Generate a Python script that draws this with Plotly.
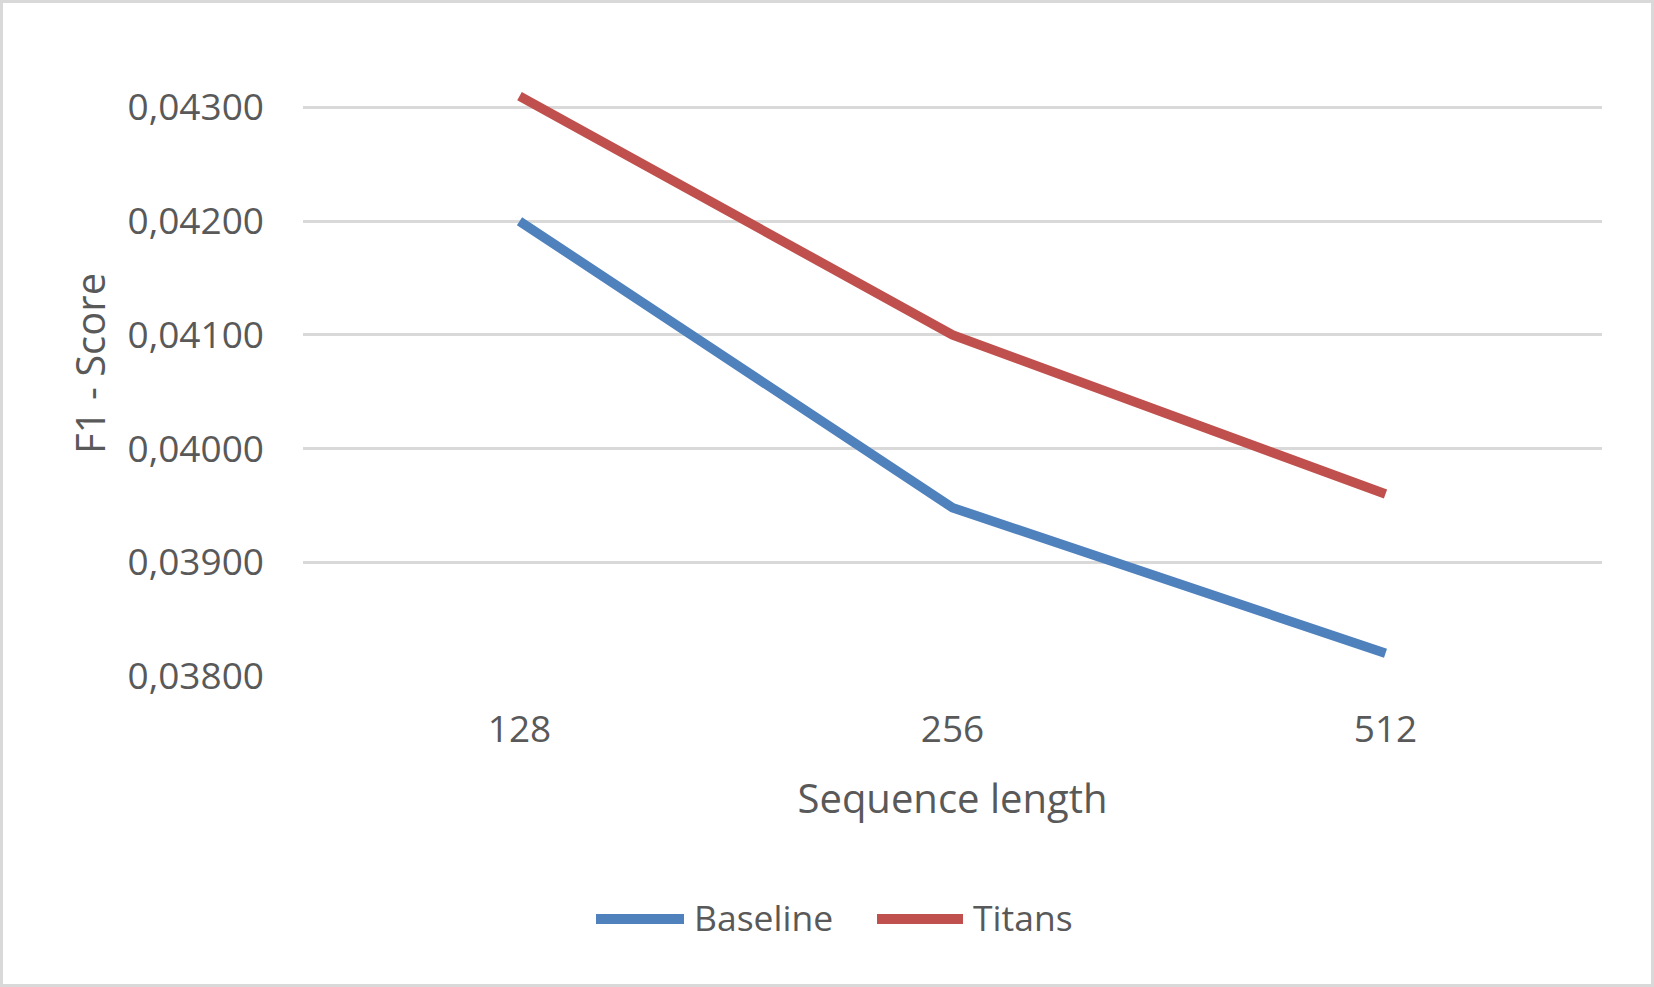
import plotly.graph_objects as go

# ---- data ----
seq_lengths = ["128", "256", "512"]
baseline = [0.04200, 0.03948, 0.03820]
titans = [0.04310, 0.04100, 0.03960]
y_ticks = [0.038, 0.039, 0.040, 0.041, 0.042, 0.043]

BLUE = "#4F81BD"
RED = "#C0504D"
TEXT = "#595959"
GRID = "#D9D9D9"
FONT = "Open Sans"

W, H = 1654, 987
ML, MR, MT, MB = 303, 52, 87, 311
PW, PH = W - ML - MR, H - MT - MB


def px_x(px):
    return (px - ML) / PW


def px_y(py):
    return (H - MB - py) / PH


fig = go.Figure()
fig.add_trace(go.Scatter(x=seq_lengths, y=baseline, mode="lines", name="Baseline",
                         line=dict(color=BLUE, width=9.5), showlegend=False))
fig.add_trace(go.Scatter(x=seq_lengths, y=titans, mode="lines", name="Titans",
                         line=dict(color=RED, width=9.5), showlegend=False))

shapes = [
    dict(type="rect", xref="paper", yref="paper",
         x0=px_x(1.5), x1=px_x(W - 1.5), y0=px_y(H - 1.5), y1=px_y(1.5),
         line=dict(color=GRID, width=3), fillcolor="rgba(0,0,0,0)", layer="below"),
]
annotations = [
    dict(text="F1 - Score", xref="paper", yref="paper", x=px_x(89), y=px_y(364),
         xanchor="center", yanchor="middle", textangle=-90, showarrow=False,
         font=dict(family=FONT, size=40, color=TEXT)),
]
legend_items = [("Baseline", BLUE, 591, 689, 695), ("Titans", RED, 872, 968, 974)]
LEG_Y = 919
for name, col, lx0, lx1, tx in legend_items:
    shapes.append(dict(type="line", xref="paper", yref="paper",
                       x0=px_x(lx0 + 5), x1=px_x(lx1 - 5), y0=px_y(LEG_Y), y1=px_y(LEG_Y),
                       line=dict(color=col, width=10)))
    annotations.append(dict(text=name, xref="paper", yref="paper", x=px_x(tx - 3), y=px_y(LEG_Y - 2),
                            xanchor="left", yanchor="middle", showarrow=False,
                            font=dict(family=FONT, size=35.5, color=TEXT)))

fig.update_layout(
    width=W, height=H,
    margin=dict(l=ML, r=MR, t=MT, b=MB, autoexpand=False),
    paper_bgcolor="white", plot_bgcolor="white",
    separators=", ",
    font=dict(family=FONT, color=TEXT),
    xaxis=dict(type="category", range=[-0.5, 2.5], showgrid=False, zeroline=False,
               showline=False, ticks="", ticklabelstandoff=28,
               tickfont=dict(family=FONT, size=37, color=TEXT),
               title=dict(text="Sequence length", standoff=32,
                          font=dict(family=FONT, size=40, color=TEXT))),
    yaxis=dict(range=[0.038, 0.04318], tickvals=y_ticks, tickformat=".5f",
               showgrid=True, gridcolor=GRID, gridwidth=3, zeroline=False,
               showline=False, ticks="", ticklabelstandoff=38,
               tickfont=dict(family=FONT, size=37, color=TEXT)),
    shapes=shapes,
    annotations=annotations,
    showlegend=False,
)

fig.write_html("out.html", config={"displayModeBar": False},
               post_script="document.body.style.margin='0';document.body.style.overflow='hidden';")
